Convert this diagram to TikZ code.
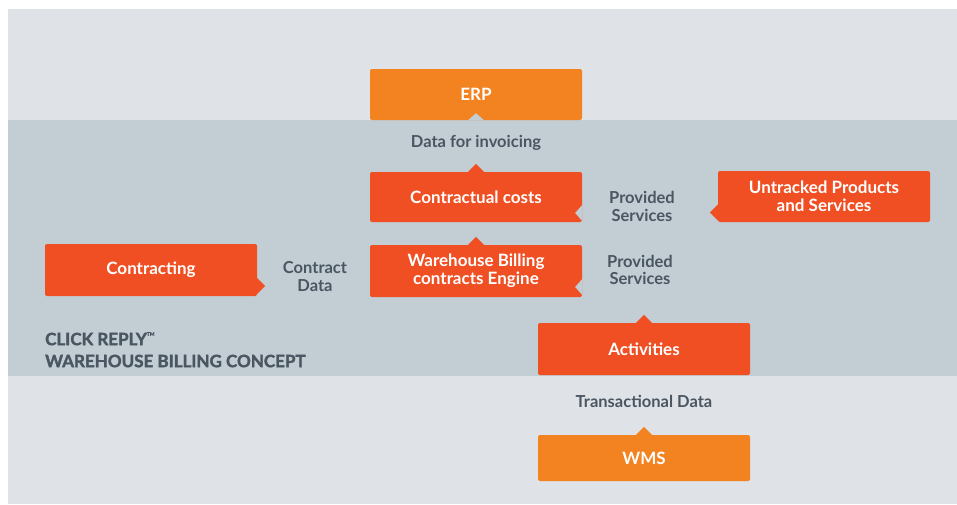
\documentclass[tikz,border=0pt]{standalone}
\usepackage{xcolor}
\usepackage{fontspec}
\setmainfont{Lato}
\newfontfamily\heavyfont[BoldFeatures={FakeBold=2}]{Lato}
\usepackage{tikz}

\definecolor{pagegray}{HTML}{DFE3E7}
\definecolor{bandgray}{HTML}{C2CDD4}
\definecolor{boxred}{HTML}{F04F23}
\definecolor{boxorange}{HTML}{F38321}
\definecolor{labelgray}{HTML}{4A5661}

\tikzset{
  box/.style={fill=boxred, text=white, rounded corners=2pt, minimum width=212pt,
    minimum height=51pt, inner sep=0pt, align=center,
    font=\fontsize{17}{18}\selectfont\bfseries},
  erpbox/.style={box, fill=boxorange},
  flowlabel/.style={text=labelgray, align=center,
    font=\fontsize{16.5}{17.5}\selectfont\bfseries}
}

\begin{document}
\begin{tikzpicture}[x=1pt, y=-1pt]
    \useasboundingbox (0,0) rectangle (957,504);
    \fill[pagegray] (8,9) rectangle (957,504);
    \fill[bandgray] (8,120) rectangle (957,376);

    % boxes
    \node[erpbox] (erp) at (476,94.5) {ERP};
    \node[box, minimum height=50pt] (ccost) at (476,197) {Contractual costs};
    \node[box, minimum height=52pt] (engine) at (476,271) {Warehouse Billing\\contracts Engine};
    \node[box, minimum height=52pt] (contracting) at (151,270) {Contracting};
    \node[box] (untracked) at (824,196.5) {Untracked Products\\and Services};
    \node[box, minimum height=52pt] (activities) at (644,349) {Activities};
    \node[erpbox, minimum height=46pt] (wms) at (644,458) {WMS};

    % tips and notches
    \fill[bandgray] ([xshift=-8pt]erp.south) -- ++(8,-7) -- ++(8,7) -- cycle;
    \fill[boxred] ([xshift=-8pt]ccost.north) -- ++(8,-8) -- ++(8,8) -- cycle;
    \fill[bandgray] ([yshift=-8pt]ccost.east) -- ++(-7,8) -- ++(7,8) -- cycle;
    \fill[boxred] ([xshift=-8pt]engine.north) -- ++(8,-8) -- ++(8,8) -- cycle;
    \fill[bandgray] ([yshift=-8pt]engine.east) -- ++(-7,8) -- ++(7,8) -- cycle;
    \fill[boxred] ([yshift=-8pt]contracting.east) -- ++(8,8) -- ++(-8,8) -- cycle;
    \fill[boxred] ([yshift=-8pt]untracked.west) -- ++(-8,8) -- ++(8,8) -- cycle;
    \fill[boxred] ([xshift=-8pt]activities.north) -- ++(8,-8) -- ++(8,8) -- cycle;
    \fill[boxorange] ([xshift=-8pt]wms.north) -- ++(8,-8) -- ++(8,8) -- cycle;

    % labels
    \node[flowlabel] (invoicing) at (476,143) {Data for invoicing};
    \node[flowlabel] (provided1) at (642,206.5) {Provided\\Services};
    \node[flowlabel] (provided2) at (640,270) {Provided\\Services};
    \node[flowlabel] (contractdata) at (315,276.5) {Contract\\Data};
    \node[flowlabel] (transactional) at (644,401) {Transactional Data};

    \node[text=labelgray, anchor=north west, inner sep=0pt, align=left,
      font=\heavyfont\fontsize{17}{22}\selectfont\bfseries] (title) at (45,332)
      {CLICK REPLY\raisebox{0.55em}{\fontsize{5}{5}\selectfont TM}\\WAREHOUSE BILLING CONCEPT};
\end{tikzpicture}
\end{document}
